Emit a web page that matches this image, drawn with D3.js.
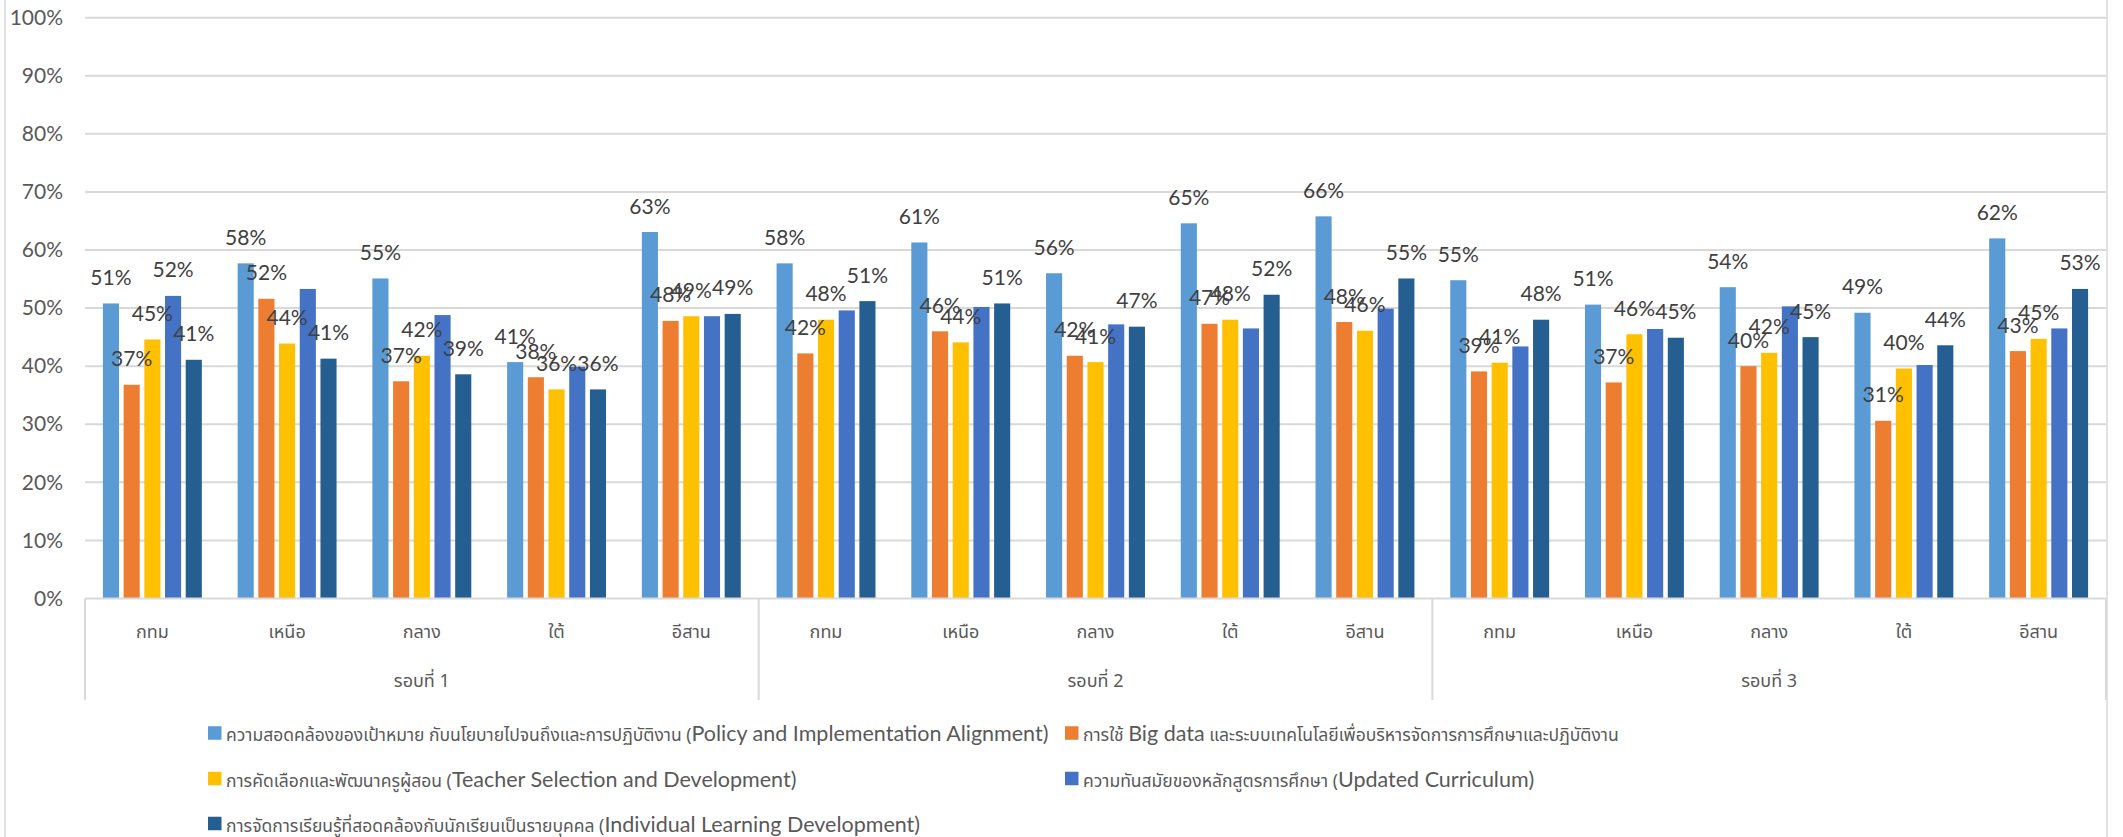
<!DOCTYPE html>
<html>
<head>
<meta charset="utf-8">
<script src="https://cdn.jsdelivr.net/npm/d3@7"></script>
<style>
  html, body { margin: 0; padding: 0; background: #ffffff; }
  svg { display: block; }
</style>
</head>
<body>
<svg id="chart" width="2123" height="837"></svg>
<script>
// ---------------- data ----------------
const rounds = ["รอบที่ 1", "รอบที่ 2", "รอบที่ 3"];
const regions = ["กทม", "เหนือ", "กลาง", "ใต้", "อีสาน"];
const yTicks = [0, 10, 20, 30, 40, 50, 60, 70, 80, 90, 100];

const seriesNames = [
  "ความสอดคล้องของเป้าหมาย กับนโยบายไปจนถึงและการปฏิบัติงาน (Policy and Implementation Alignment)",
  "การใช้ Big data และระบบเทคโนโลยีเพื่อบริหารจัดการการศึกษาและปฏิบัติงาน",
  "การคัดเลือกและพัฒนาครูผู้สอน (Teacher Selection and Development)",
  "ความทันสมัยของหลักสูตรการศึกษา (Updated Curriculum)",
  "การจัดการเรียนรู้ที่สอดคล้องกับนักเรียนเป็นรายบุคคล (Individual Learning Development)"
];
const seriesColors = ["#5B9BD5", "#ED7D31", "#FFC000", "#4472C4", "#255E91"];

// values in percent, order: round1 (5 regions), round2, round3
const policyAlignment = [50.8, 57.7, 55.1, 40.7, 63.1,  57.7, 61.3, 56.0, 64.6, 65.8,  54.8, 50.6, 53.6, 49.2, 62.0];
const bigData         = [36.8, 51.6, 37.4, 38.1, 47.8,  42.2, 46.0, 41.8, 47.3, 47.6,  39.1, 37.2, 40.0, 30.6, 42.6];
const teacherDev      = [44.6, 43.9, 41.8, 36.0, 48.6,  48.0, 44.1, 40.7, 48.0, 46.1,  40.6, 45.5, 42.3, 39.6, 44.7];
const curriculum      = [52.1, 53.3, 48.8, 39.9, 48.6,  49.6, 50.2, 47.2, 46.5, 49.9,  43.4, 46.4, 50.3, 40.2, 46.5];
const individual      = [41.1, 41.3, 38.6, 36.0, 49.0,  51.2, 50.8, 46.8, 52.3, 55.1,  48.0, 44.9, 45.0, 43.6, 53.3];
const seriesValues = [policyAlignment, bigData, teacherDev, curriculum, individual];

// which data labels are visible (the curriculum series only shows its first label)
const curriculumLabelShown = [true, false, false, false, false, false, false, false, false, false, false, false, false, false, false];

// ---------------- layout ----------------
const svg = d3.select("#chart");
const plot = { left: 85, right: 2106, top: 17.7, bottom: 598.5 };
const NUM_FONT = "Lato, 'Liberation Sans', sans-serif";
const THAI_FONT = "'Noto Sans Thai', 'Noto Sans Thai UI', Leelawadee, Tahoma, 'Noto Sans', sans-serif";

const categories = [];
rounds.forEach((r, ri) => regions.forEach((g, gi) => categories.push({ key: ri + "|" + gi, round: r, region: g })));

const x0 = d3.scaleBand().domain(categories.map(c => c.key)).range([plot.left, plot.right]).paddingInner(0).paddingOuter(0);
const x1 = d3.scaleBand().domain(d3.range(seriesNames.length)).range([0, x0.bandwidth()]).paddingInner(0.222).paddingOuter(0.865);
const y = d3.scaleLinear().domain([0, 100]).range([plot.bottom, plot.top]);
const xr = d3.scaleBand().domain(rounds).range([plot.left, plot.right]);

// outer chart border
svg.append("rect").attr("x", 5).attr("y", -5).attr("width", 2102).attr("height", 860)
  .attr("fill", "none").attr("stroke", "#D9D9D9").attr("stroke-width", 1.5);

// gridlines
svg.append("g").selectAll("line").data(yTicks.filter(t => t > 0)).join("line")
  .attr("x1", plot.left).attr("x2", plot.right)
  .attr("y1", d => y(d)).attr("y2", d => y(d))
  .attr("stroke", "#D9D9D9").attr("stroke-width", 2);

// y axis labels
const yAxis = d3.axisLeft(y).tickValues(yTicks).tickFormat(d => d + "%").tickSize(0).tickPadding(22);
const gy = svg.append("g").attr("transform", `translate(${plot.left},0)`).call(yAxis);
gy.select(".domain").remove();
gy.selectAll("text").attr("font-family", NUM_FONT).attr("font-size", 21).attr("fill", "#595959");

// bars
const barData = [];
seriesValues.forEach((vals, si) => vals.forEach((v, ci) => barData.push({ si, ci, v, cat: categories[ci].key })));
svg.append("g").selectAll("rect").data(barData).join("rect")
  .attr("x", d => x0(d.cat) + x1(d.si))
  .attr("y", d => y(d.v))
  .attr("width", x1.bandwidth())
  .attr("height", d => y(0) - y(d.v))
  .attr("fill", d => seriesColors[d.si]);

// x axis line & dividers
svg.append("line").attr("x1", plot.left).attr("x2", plot.right).attr("y1", y(0)).attr("y2", y(0))
  .attr("stroke", "#D9D9D9").attr("stroke-width", 2);
const dividers = rounds.map(r => xr(r)).concat([plot.right]);
svg.append("g").selectAll("line").data(dividers).join("line")
  .attr("x1", d => d).attr("x2", d => d).attr("y1", y(0)).attr("y2", 700)
  .attr("stroke", "#D9D9D9").attr("stroke-width", 2);

// category labels
svg.append("g").selectAll("text").data(categories).join("text")
  .attr("x", d => x0(d.key) + x0.bandwidth() / 2).attr("y", 638)
  .attr("text-anchor", "middle").attr("font-family", THAI_FONT).attr("font-size", 18).attr("fill", "#595959")
  .text(d => d.region);
svg.append("g").selectAll("text").data(rounds).join("text")
  .attr("x", d => xr(d) + xr.bandwidth() / 2).attr("y", 687)
  .attr("text-anchor", "middle").attr("font-family", THAI_FONT).attr("font-size", 18).attr("fill", "#595959")
  .text(d => d);

// data labels
const labelData = barData.filter(d => d.si !== 3 || curriculumLabelShown[d.ci]);
svg.append("g").selectAll("text").data(labelData).join("text")
  .attr("x", d => x0(d.cat) + x1(d.si) + x1.bandwidth() / 2)
  .attr("y", d => y(d.v) - 18.5)
  .attr("text-anchor", "middle").attr("font-family", NUM_FONT).attr("font-size", 21).attr("fill", "#404040")
  .text(d => Math.round(d.v) + "%");

// legend
const legendPos = [
  { x: 208, y: 733 }, { x: 1065, y: 733 },
  { x: 208, y: 778.5 }, { x: 1065, y: 778.5 },
  { x: 208, y: 823.5 }
];
const lg = svg.append("g").selectAll("g").data(seriesNames).join("g")
  .attr("transform", (d, i) => `translate(${legendPos[i].x},${legendPos[i].y})`);
lg.append("rect").attr("x", 0).attr("y", -6.75).attr("width", 13.5).attr("height", 13.5)
  .attr("fill", (d, i) => seriesColors[i]);
const lt = lg.append("text").attr("x", 18).attr("y", 8).attr("fill", "#595959");
lt.each(function (name) {
  const parts = name.split(/([A-Za-z][A-Za-z ]*[A-Za-z]\)?)/).filter(s => s.length);
  const t = d3.select(this);
  parts.forEach(p => {
    const latin = /^[A-Za-z]/.test(p);
    t.append("tspan").attr("font-family", latin ? NUM_FONT : THAI_FONT)
      .attr("font-size", latin ? 21.5 : 17.5).text(p);
  });
});
</script>
</body>
</html>
